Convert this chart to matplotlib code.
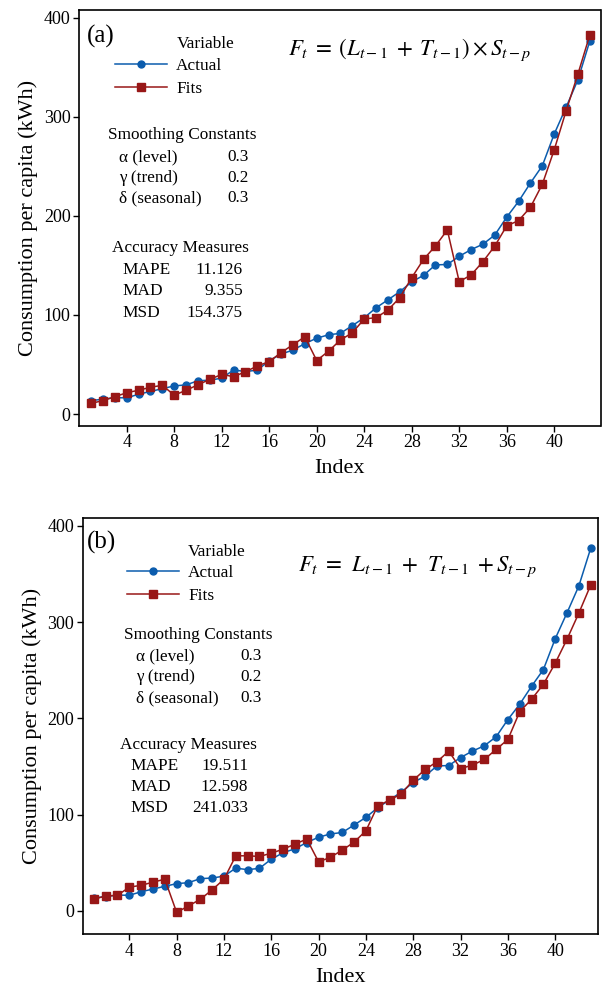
import numpy as np
import matplotlib
matplotlib.use("Agg")
import matplotlib.pyplot as plt

plt.rcParams['font.family'] = ['Liberation Serif', 'DejaVu Serif']
plt.rcParams['mathtext.fontset'] = 'stix'

# ---------------- data ----------------
index = list(range(1, 44))
actual = [13.5, 15, 16.5, 16.3, 20, 22.8, 25.6, 28.4, 29.4, 33.6, 34.2, 36.2, 44.5, 42.9,
          44.3, 53.8, 60.5, 64.6, 71.1, 76.6, 80, 81.5, 89.3, 97.2, 107.3, 115.3, 123.6,
          133.4, 140.1, 150.6, 151, 159.3, 166, 171.5, 180.8, 198.8, 214.7, 233.3, 250.7,
          282.7, 309.7, 337.6, 376.7]
fits_mult = [10.8, 13.5, 17.5, 21.5, 24, 27, 29, 19, 24, 29.5, 35, 40, 37.7, 42.7, 48.5,
             53, 62, 70, 78, 54, 63.5, 74.8, 82, 96, 97.3, 105, 117.5, 137.7, 156.2, 169.7,
             185.9, 133.7, 140.4, 153.9, 169.7, 190, 195.3, 208.8, 232, 266.7, 306, 343.4,
             382.8]
fits_add = [12.2, 15.6, 16.3, 24.7, 26.7, 29.9, 33, -1.4, 5.2, 12.2, 21.9, 33, 57.3, 57.3,
            56.6, 60, 64.2, 69.4, 74.7, 51, 55.8, 63.2, 71.5, 83.3, 109.4, 114.9, 121.9,
            135.8, 146.9, 154.9, 165.9, 147.9, 151.4, 157.3, 167.7, 178.1, 207, 219.8,
            235.4, 257.3, 282.3, 309.4, 338.5]

xticks = [4, 8, 12, 16, 20, 24, 28, 32, 36, 40]
yticks = [0, 100, 200, 300, 400]

panel_labels = ['(a)', '(b)']
formulas = [r'$F_t\;=\;(L_{t-1}\;+\;T_{t-1})\times S_{t-p}$',
            r'$F_t\;=\;\,L_{t-1}\;+\;\,T_{t-1}\;+S_{t-p}$']
smoothing_names = ['\u03b1 (level)', '\u03b3 (trend)', '\u03b4 (seasonal)']
smoothing_vals = ['0.3', '0.2', '0.3']
accuracy_names = ['MAPE', 'MAD', 'MSD']
accuracy_vals = [['11.126', '9.355', '154.375'], ['19.511', '12.598', '241.033']]

blue = '#0b5cad'
red = '#981717'

W, H = 602, 989
fig = plt.figure(figsize=(W / 100, H / 100), dpi=100)

def fr(x, y):
    return x / W, 1 - y / H

# axes boxes in pixels: left, top, right, bottom
boxes = [(79, 10, 600.5, 425.7), (82.7, 518.3, 598.3, 934.3)]
xlims = [(-0.02, 43.9), (0.06, 43.64)]
ylims = [(-11.8, 408), (-24.2, 407.7)]
fits_all = [fits_mult, fits_add]

# text anchor pixel positions per panel
txt = [
    dict(lab=(87, 36), var=(177, 44), leg=(115, 58), sm=(108, 135), smx=119, smv=227,
         smy=[157, 178, 198], acc=(112, 248), accx=122, accv=243, accy=[270, 291, 313],
         form=(288, 50)),
    dict(lab=(87, 542), var=(187.7, 552), leg=(127, 565), sm=(124, 635), smx=136, smv=240.7,
         smy=[656, 677, 698], acc=(120, 745), accx=130, accv=248.3, accy=[766, 787, 808],
         form=(298, 567)),
]

fs = 12.4
for i in range(2):
    l, t, r, b = boxes[i]
    x0, y0 = fr(l, b)
    x1, y1 = fr(r, t)
    ax = fig.add_axes([x0, y0, x1 - x0, y1 - y0])
    ax.plot(index, actual, color=blue, marker='o', markersize=5, lw=1.1, label='Actual')
    ax.plot(index, fits_all[i], color=red, marker='s', markersize=5.2, lw=1.1, label='Fits')
    ax.set_xlim(*xlims[i])
    ax.set_ylim(*ylims[i])
    ax.set_xticks(xticks)
    ax.set_yticks(yticks)
    ax.tick_params(direction='out', length=4, width=1, labelsize=13, pad=2)
    for s in ax.spines.values():
        s.set_linewidth(1.2)
    ax.set_xlabel('Index', fontsize=16, labelpad=6)
    ax.set_ylabel('Consumption per capita (kWh)', fontsize=16, labelpad=4)

    d = txt[i]
    def ft(x, y, s, **kw):
        fig.text(*fr(x, y), s, va='center', **kw)
    ft(*d['lab'], panel_labels[i], fontsize=18)
    ft(*d['var'], 'Variable', fontsize=fs)
    ax.legend(loc='upper left', bbox_to_anchor=fr(*d['leg']),
              bbox_transform=fig.transFigure, frameon=False, fontsize=fs,
              handlelength=3.0, handletextpad=0.55, labelspacing=0.4,
              borderpad=0, borderaxespad=0)
    ft(*d['sm'], 'Smoothing Constants', fontsize=fs)
    for name, val, yy in zip(smoothing_names, smoothing_vals, d['smy']):
        ft(d['smx'], yy, name, fontsize=fs)
        ft(d['smv'], yy, val, fontsize=fs)
    ft(*d['acc'], 'Accuracy Measures', fontsize=fs)
    for name, val, yy in zip(accuracy_names, accuracy_vals[i], d['accy']):
        ft(d['accx'], yy, name, fontsize=fs)
        ft(d['accv'], yy, val, fontsize=fs, ha='right')
    ft(*d['form'], formulas[i], fontsize=16.5)

fig.savefig('out.png', dpi=100)
